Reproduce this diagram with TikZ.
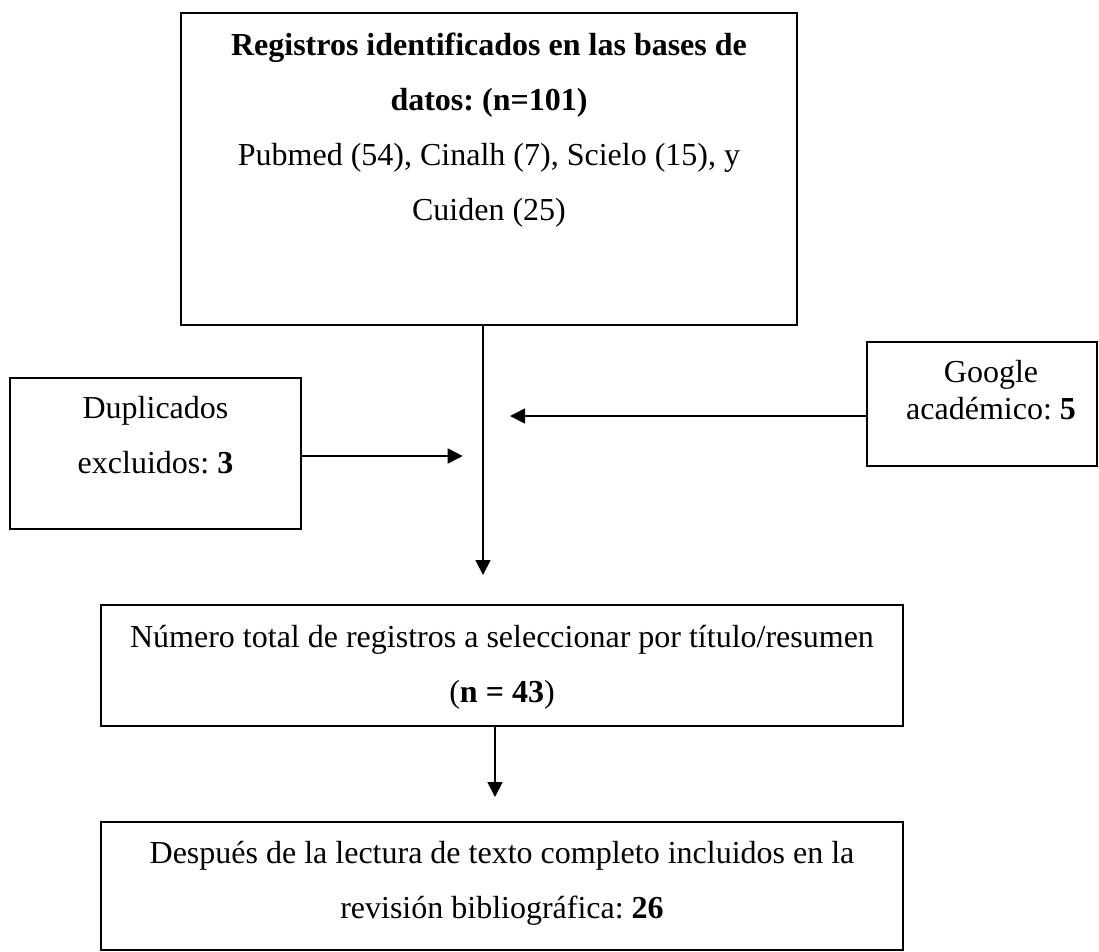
\documentclass[tikz,border=0pt]{standalone}
\usepackage{fontspec}
\setmainfont{Liberation Serif}
\usetikzlibrary{arrows.meta}
\frenchspacing
\begin{document}
\begin{tikzpicture}[x=0.75pt,y=-0.75pt,
  box/.style={draw=black,line width=1.2pt,rectangle,inner sep=0pt,minimum width=#1},
  txt/.style={align=center,anchor=base,inner sep=0pt,font=\fontsize{24}{41.25}\selectfont\frenchspacing},
  txtg/.style={align=center,anchor=base,inner sep=0pt,font=\fontsize{24}{27.75}\selectfont\frenchspacing},
  conn/.style={line width=1.3pt,-{Triangle[length=11.25pt,width=11.25pt]}}]
\useasboundingbox (0,0) rectangle (1099,951);
% boxes
\node[box=462pt,minimum height=234pt] (top) at (489,169) {};
\node[box=218.25pt,minimum height=113.25pt] (dup) at (155.5,453.5) {};
\node[box=172.5pt,minimum height=93pt] (goo) at (982,404) {};
\node[box=601.5pt,minimum height=90.75pt] (sel) at (502,665.5) {};
\node[box=601.5pt,minimum height=96pt] (inc) at (502,886) {};
% texts (anchored at the baseline of the last line)
\node[txt] (ttop) at (489,220) {\textbf{Registros identificados en las bases de}\\\textbf{datos: (n=101)}\\Pubmed (54), Cinalh (7), Scielo (15), y\\Cuiden (25)};
\node[txt] (tdup) at (155.5,473) {Duplicados\\excluidos: \textbf{3}};
\node[txtg] (tgoo) at (991,419) {Google\\académico: \textbf{5}};
\node[txt] (tsel) at (502,702) {Número total de registros a seleccionar por título/resumen\\(\textbf{n = 43})};
\node[txt] (tinc) at (502,918) {Después de la lectura de texto completo incluidos en la\\revisión bibliográfica: \textbf{26}};
% connector ends
\coordinate (mend) at (483,575);
\coordinate (dend) at (462.7,456);
\coordinate (gend) at (510,416);
\coordinate (send) at (495,797);
\draw[conn] (top.south -| mend) -- (mend);
\draw[conn] (dup.east |- dend) -- (dend);
\draw[conn] (goo.west |- gend) -- (gend);
\draw[conn] (sel.south -| send) -- (send);
\end{tikzpicture}
\end{document}
